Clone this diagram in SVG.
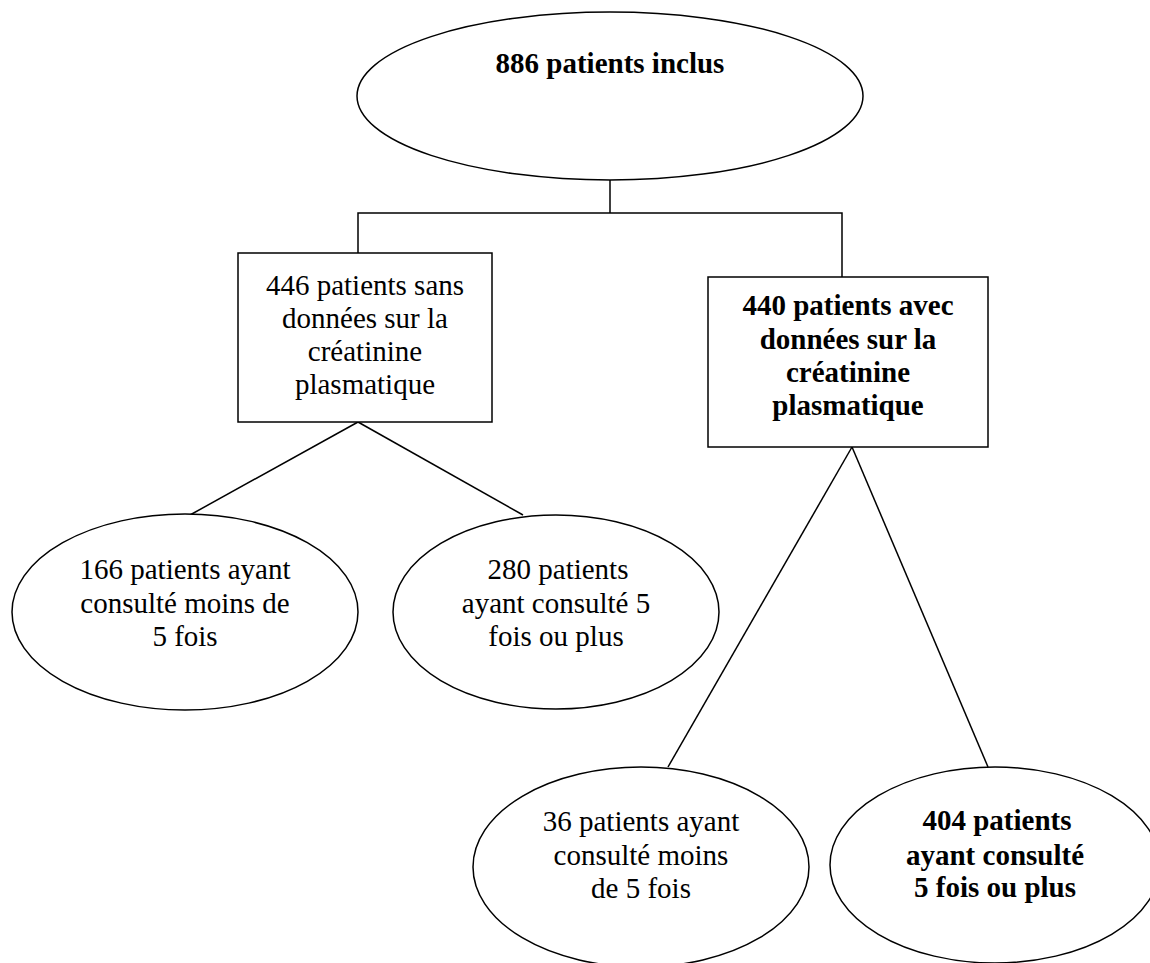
<svg xmlns="http://www.w3.org/2000/svg" width="1150" height="963" viewBox="0 0 1150 963">
<style>
.shape{fill:#fff;stroke:#000;stroke-width:1.5}
.conn line, .conn polyline{stroke:#000;stroke-width:1.5;fill:none}
text{font-family:"Liberation Serif","Times New Roman",serif;font-size:29px;fill:#000;text-anchor:middle}
.b{font-weight:bold}
</style>
<rect width="1150" height="963" fill="#fff"/>
<g class="conn">
<line x1="610" y1="180" x2="610" y2="213"/>
<polyline points="358,253 358,213 842,213 842,277"/>
<line x1="358" y1="422" x2="190" y2="515"/>
<line x1="358" y1="422" x2="523" y2="515"/>
<line x1="852" y1="447" x2="668" y2="767"/>
<line x1="852" y1="447" x2="988" y2="767"/>
</g>
<g id="n886">
<ellipse class="shape" cx="610" cy="96" rx="253" ry="84"/>
<text class="b" x="610" y="73">886 patients inclus</text>
</g>
<g id="n446">
<rect class="shape" x="238" y="253" width="254" height="169"/>
<text x="365" y="295">446 patients sans</text>
<text x="365" y="328">données sur la</text>
<text x="365" y="361">créatinine</text>
<text x="365" y="394">plasmatique</text>
</g>
<g id="n440">
<rect class="shape" x="708" y="277" width="280" height="170"/>
<text class="b" x="848" y="315">440 patients avec</text>
<text class="b" x="848" y="349">données sur la</text>
<text class="b" x="848" y="382">créatinine</text>
<text class="b" x="848" y="415">plasmatique</text>
</g>
<g id="n166">
<ellipse class="shape" cx="185" cy="612" rx="173" ry="98"/>
<text x="185" y="579">166 patients ayant</text>
<text x="185" y="613">consulté moins de</text>
<text x="185" y="646">5 fois</text>
</g>
<g id="n280">
<ellipse class="shape" cx="556" cy="612" rx="163" ry="97"/>
<text x="558" y="579">280 patients</text>
<text x="556" y="613">ayant consulté 5</text>
<text x="556" y="646">fois ou plus</text>
</g>
<g id="n36">
<ellipse class="shape" cx="641" cy="867" rx="168" ry="100"/>
<text x="641" y="831">36 patients ayant</text>
<text x="641" y="865">consulté moins</text>
<text x="641" y="898">de 5 fois</text>
</g>
<g id="n404">
<ellipse class="shape" cx="995" cy="865" rx="165" ry="98"/>
<text class="b" x="997" y="830">404 patients</text>
<text class="b" x="995" y="865">ayant consulté</text>
<text class="b" x="995" y="897">5 fois ou plus</text>
</g>
</svg>
